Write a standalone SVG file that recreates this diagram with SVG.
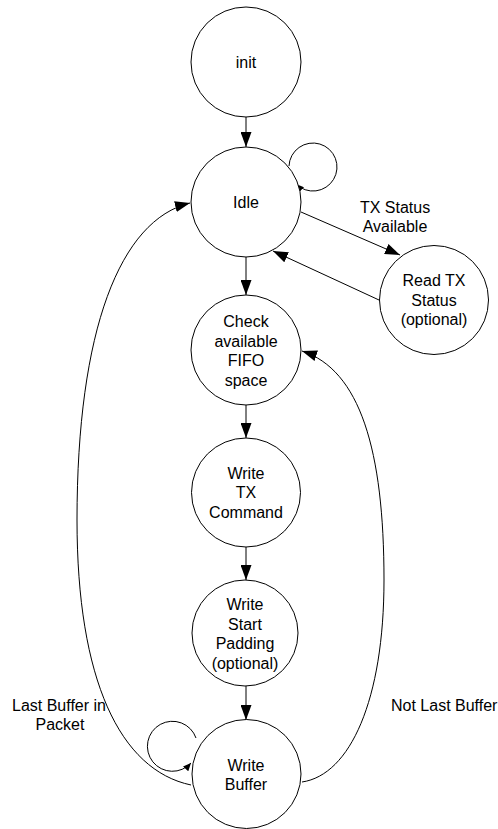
<svg xmlns="http://www.w3.org/2000/svg" width="498" height="829" viewBox="0 0 498 829">
<style>
.st{fill:#fff;stroke:#000;stroke-width:1}
.t{font-family:"Liberation Sans",Arial,sans-serif;font-size:16px;fill:#000;text-anchor:middle}
.c{fill:none;stroke:#000;stroke-width:1}
</style>
<defs>
<marker id="a" markerWidth="16" markerHeight="11" refX="15" refY="5.5" orient="auto" markerUnits="userSpaceOnUse">
<path d="M0,0 L15,5.5 L0,11 Z" fill="#000"/>
</marker>
<marker id="s" markerWidth="9" markerHeight="7" refX="8" refY="3.5" orient="auto" markerUnits="userSpaceOnUse">
<path d="M0,0 L8,3.5 L0,7 Z" fill="#000"/>
</marker>
</defs>
<rect width="498" height="829" fill="#fff"/>
<g id="connectors">
<line class="c" x1="246" y1="117" x2="246" y2="147" marker-end="url(#a)"/>
<line class="c" x1="246" y1="257" x2="246" y2="295" marker-end="url(#a)"/>
<line class="c" x1="246" y1="405" x2="246" y2="438" marker-end="url(#a)"/>
<line class="c" x1="246" y1="547" x2="246" y2="580" marker-end="url(#a)"/>
<line class="c" x1="246" y1="686" x2="246" y2="720" marker-end="url(#a)"/>
<line class="c" x1="301" y1="212" x2="400" y2="255" marker-end="url(#a)"/>
<line class="c" x1="379" y1="300" x2="273" y2="251" marker-end="url(#a)"/>
<path class="c" d="M289,166 A24,24 0 1 1 296,184" marker-end="url(#s)"/>
<path class="c" d="M196,738 A25,25 0 1 0 191,763" marker-end="url(#s)"/>
<path class="c" d="M191,785 C120,770 77,680 77,520 C77,330 120,220 190,203" marker-end="url(#a)"/>
<path class="c" d="M302,782 C350,775 384,700 384,580 C384,450 360,370 302,351" marker-end="url(#a)"/>
<text class="t" x="395" y="213">TX Status</text>
<text class="t" x="395" y="232">Available</text>
<text class="t" x="59" y="711">Last Buffer in</text>
<text class="t" x="60" y="730">Packet</text>
<text class="t" x="391" y="711" style="text-anchor:start">Not Last Buffer</text>
</g>
<g id="init">
<circle class="st" cx="246" cy="62" r="55"/>
<text class="t" x="246" y="68">init</text>
</g>
<g id="idle">
<circle class="st" cx="246" cy="202" r="55"/>
<text class="t" x="246" y="208">Idle</text>
</g>
<g id="readtx">
<circle class="st" cx="434" cy="300" r="54.5"/>
<text class="t" x="434" y="286">Read TX</text>
<text class="t" x="434" y="305.5">Status</text>
<text class="t" x="434" y="325">(optional)</text>
</g>
<g id="check">
<circle class="st" cx="246" cy="350" r="55"/>
<text class="t" x="246" y="327">Check</text>
<text class="t" x="246" y="346.5">available</text>
<text class="t" x="246" y="366">FIFO</text>
<text class="t" x="246" y="385.5">space</text>
</g>
<g id="writetx">
<circle class="st" cx="246" cy="492.5" r="54.5"/>
<text class="t" x="246" y="478.5">Write</text>
<text class="t" x="246" y="498">TX</text>
<text class="t" x="246" y="517.5">Command</text>
</g>
<g id="padding">
<circle class="st" cx="245" cy="633" r="53"/>
<text class="t" x="245" y="610">Write</text>
<text class="t" x="245" y="629.5">Start</text>
<text class="t" x="245" y="649">Padding</text>
<text class="t" x="245" y="668.5">(optional)</text>
</g>
<g id="buffer">
<circle class="st" cx="246.5" cy="774" r="54.5"/>
<text class="t" x="246" y="771">Write</text>
<text class="t" x="246" y="790">Buffer</text>
</g>
</svg>
